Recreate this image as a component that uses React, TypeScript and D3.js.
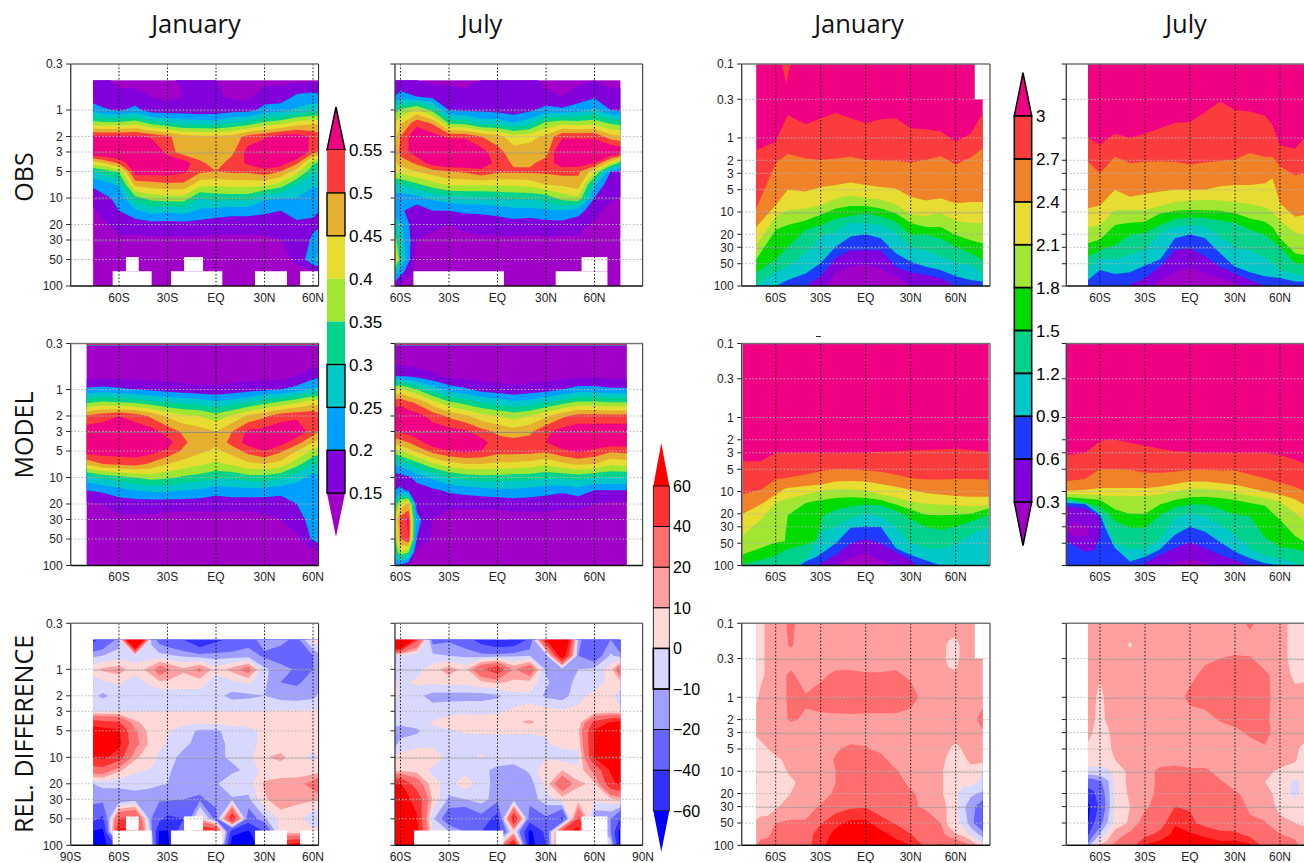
import React from "react";
import * as d3 from "d3";

// ---- colour levels
const ozThresholds = [15, 20, 25, 30, 35, 40, 45, 50, 55];
const ozColors = ["#a000c8", "#8200dc", "#00a0ff", "#00c8c8", "#00d28c", "#a0e632", "#e6dc32", "#e6af2d", "#fa3c3c", "#f00082"];
const ozLabels = ["0.55", "0.5", "0.45", "0.4", "0.35", "0.3", "0.25", "0.2", "0.15"];
const h2oLabels = ["3", "2.7", "2.4", "2.1", "1.8", "1.5", "1.2", "0.9", "0.6", "0.3"];
const h2oColors = ["#f00082", "#fa3c3c", "#f08228", "#e6dc32", "#a0e632", "#00dc00", "#00d28c", "#00c8c8", "#1e3cff", "#8200dc", "#a000c8"];
const diffThresholds = [-60, -40, -20, -10, 0, 10, 20, 40, 60];
const diffColors = ["#0000ff", "#3232ff", "#6666ff", "#a0a0ff", "#d8d8ff", "#ffd8d8", "#ffa0a0", "#ff6e6e", "#ff3232", "#ff0000"];
const diffLabels = ["60", "40", "20", "10", "0", "\u221210", "\u221220", "\u221240", "\u221260"];

// ---- axes
const leftTicks = [0.3, 1, 2, 3, 5, 10, 20, 30, 50, 100];
const rightTicks = [0.1, 0.3, 1, 2, 3, 5, 10, 20, 30, 50, 100];
const latTicks = [-60, -30, 0, 30, 60];
const titles = ["January", "July", "January", "July"];
const rowTitles = ["OBS", "MODEL", "REL. DIFFERENCE"];
const solidObs = [1, 3, 10, 30];
const solidModel = [3];
const solidH2oObs = [10, 30];
const solidDiff = [1, 10, 30];
const solidDiff2 = [0.3, 1, 3, 10, 30];

// ---- ozone-like panels
const levelsA = [0.46, 0.7, 1, 1.4, 2, 3, 4, 5, 7, 10, 14, 20, 30, 50, 70, 100];
const latsObsJan = [-76, -70, -60, -50, -40, -30, -20, -10, 0, 10, 20, 30, 40, 50, 60, 64];
const obsJan = [
  [17,16,14,14,14,14,16,17,15,14,14,14,14,14,14,14],
  [17,16,16,16,15,14,15,16,16,14,14,17,17,21,22,21],
  [23,21,19,22,17,17,17,16,17,18,18,22,23,26,28,28],
  [37,36,36,38,33,30,28,28,27,30,32,36,38,42,44,44],
  [56,56,56,56,54,51,47,46,46,47,52,54,57,58,54,52],
  [62,62,62,62,62,53,47,47,48,49,57,60,62,62,52,50],
  [42,45,51,60,60,60,58,51,48,52,56,60,58,51,36,34],
  [30,32,36,58,58,58,56,51,50,51,51,53,50,42,31,30],
  [21,22,26,47,48,49,49,42,41,42,42,42,38,30,26,26],
  [17,19,21,33,37,38,38,30,32,32,32,26,25,25,22,21],
  [14,17,20,24,27,26,27,24,23,22,22,21,20,22,21,20],
  [13,14,17,17,18,18,18,18,17,17,17,17,17,19,19,19],
  [12,13,14,14,14,14,14,14,14,14,14,14,15,16,21,23],
  [12,12,12,12,12,12,12,12,12,12,12,13,13,16,24,27],
  [12,12,12,12,12,12,12,12,12,12,12,12,12,13,14,15],
  [12,12,12,12,12,12,12,12,12,12,12,12,12,12,12,12],
];
const latsObsJul = [-63.4, -60, -50, -40, -30, -20, -10, 0, 10, 20, 30, 40, 50, 60, 70, 76];
const obsJul = [
  [17,16,15,14,14,14,15,17,17,16,14,14,14,15,14,14],
  [20,22,20,18,17,16,15,16,17,15,16,15,17,19,16,16],
  [33,36,41,33,20,19,19,18,17,19,22,21,23,26,20,19],
  [40,44,53,49,34,33,28,28,25,28,36,38,37,38,34,33],
  [43,50,60,57,54,54,50,47,42,43,46,54,54,54,47,46],
  [44,52,58,62,62,62,57,52,47,48,48,62,62,60,62,60],
  [44,47,51,58,60,60,57,54,49,49,52,58,58,55,42,33],
  [41,42,45,48,50,51,54,51,51,51,51,52,51,42,20,19],
  [30,30,34,38,41,41,41,41,41,42,45,46,48,26,16,16],
  [22,22,23,26,28,29,29,30,31,31,32,37,39,20,16,15],
  [20,21,17,20,20,21,21,22,23,23,24,25,22,17,13,13],
  [30,26,15,16,15,16,17,17,18,17,18,18,17,14,13,13],
  [38,28,15,14,13,14,14,14,14,14,14,14,14,13,13,13],
  [50,30,13,12,12,12,12,12,12,12,12,12,12,12,12,12],
  [28,22,13,12,12,12,12,12,12,12,12,12,12,12,12,12],
  [16,14,12,12,12,12,12,12,12,12,12,12,12,12,12,12],
];
const levelsB = [0.3, 0.31, 0.315, 0.46, 0.7, 1, 1.4, 2, 3, 4, 5, 7, 10, 14, 20, 30, 50, 70, 100];
const latsModelJan = [-80, -70, -60, -50, -40, -30, -20, -10, 0, 10, 20, 30, 40, 50, 60, 64];
const modelJan = [
  [60,60,60,60,60,60,60,60,60,60,60,60,60,60,60,60],
  [60,60,60,60,60,60,60,60,60,60,60,60,60,60,60,60],
  [12,12,12,12,12,12,12,12,12,12,12,12,12,12,12,12],
  [12,12,12,12,12,12,12,12,12,12,12,12,12,12,12,12],
  [13,13,13,13,13,13,13,13,13,13,13,13,13,15,18,19],
  [21,22,21,20,19,18,17,16,16,17,18,19,20,22,26,26],
  [34,36,35,34,32,30,29,28,26,27,30,33,36,39,43,43],
  [51,53,55,53,49,44,41,40,37,41,46,49,53,54,54,52],
  [58,58,58,58,57,53,49,47,45,50,56,57,58,58,53,49],
  [58,58,58,58,58,57,51,47,46,52,57,58,57,52,45,43],
  [58,58,58,58,57,54,49,46,44,47,52,55,51,45,39,37],
  [46,50,51,52,49,45,43,41,39,41,44,45,43,37,30,30],
  [28,31,33,35,37,36,34,33,31,31,33,33,31,27,23,24],
  [20,21,23,25,26,26,25,24,22,23,23,23,22,22,22,22],
  [14,15,17,17,17,17,17,17,17,17,17,17,17,20,22,22],
  [12,13,14,14,14,13,13,13,13,13,13,14,15,18,22,23],
  [12,12,12,12,12,12,12,12,12,12,12,12,13,14,21,23],
  [12,12,12,12,12,12,12,12,12,12,12,12,12,12,13,15],
  [12,12,12,12,12,12,12,12,12,12,12,12,12,12,12,12],
];
const latsModelJul = [-63.4, -60, -55, -50, -40, -30, -20, -10, 0, 10, 20, 30, 40, 50, 60, 70, 80];
const modelJul = [
  [60,60,60,60,60,60,60,60,60,60,60,60,60,60,60,60,60],
  [60,60,60,60,60,60,60,60,60,60,60,60,60,60,60,60,60],
  [12,12,12,12,12,12,12,12,12,12,12,12,12,12,12,12,12],
  [12,12,12,12,12,12,12,12,12,12,12,12,12,12,12,12,12],
  [20,20,19,18,16,14,13,13,13,13,13,13,13,14,14,13,13],
  [40,41,38,35,28,23,21,18,17,16,17,18,20,22,22,21,21],
  [53,54,51,49,42,36,33,30,28,26,27,30,33,36,36,35,35],
  [58,58,58,57,53,49,46,42,40,38,40,44,49,52,52,52,52],
  [55,56,57,58,58,57,56,52,49,47,49,54,57,58,58,58,58],
  [47,48,50,53,58,58,58,57,52,52,52,55,58,58,58,58,58],
  [38,40,43,46,52,55,56,55,52,52,52,51,54,56,54,51,52],
  [25,27,30,33,39,43,45,45,44,44,43,41,44,46,45,41,42],
  [17,18,19,22,26,30,32,33,33,32,32,31,31,32,30,30,30],
  [20,21,19,17,19,21,22,23,24,24,23,22,21,23,20,20,20],
  [30,42,46,18,16,16,16,16,16,17,17,17,16,16,15,14,14],
  [40,52,56,22,15,13,13,13,13,13,13,13,13,13,13,13,13],
  [35,50,55,20,14,12,12,12,12,12,12,12,12,12,12,12,12],
  [30,40,36,14,12,12,12,12,12,12,12,12,12,12,12,12,12],
  [20,19,15,12,12,12,12,12,12,12,12,12,12,12,12,12,12],
];
const latsDiffJan = [-76, -70, -60, -50, -40, -35, -30, -20, -10, 0, 10, 20, 30, 40, 50, 60, 64];
const diffJan = [
  [-45,-35,-15,150,-12,-25,-30,-40,-62,-45,-35,-25,-15,-15,-25,5,5],
  [-12,-10,-6,-5,-6,-7,-8,-12,-15,-15,-15,-15,-22,-28,-30,-20,-12],
  [6,12,15,4,15,30,22,12,24,4,14,28,-8,-15,-22,-20,-12],
  [-5,-2,2,-5,3,8,8,5,5,-5,-3,2,-8,-20,-22,-15,-12],
  [-8,-12,-6,-5,-7,-10,-7,-5,-5,-7,-13,-12,-10,-14,-15,-13,-8],
  [0,0,0,0,0,0,0,0,0,0,0,0,0,1,1,1,1],
  [50,45,42,12,5,4,4,3,3,3,4,4,4,3,3,3,4],
  [70,70,62,22,5,3,1,-5,-12,-12,-5,-3,2,3,3,5,12],
  [70,70,65,25,6,2,-1,-8,-13,-15,-6,-4,3,3,3,3,5],
  [60,65,50,12,4,-2,-6,-13,-16,-14,-7,-3,9,13,3,-2,2],
  [30,32,12,2,-1,-3,-8,-16,-15,-10,-14,-6,3,3,3,3,4],
  [-10,-8,-6,-6,-8,-9,-10,-15,-15,-12,2,-5,12,15,16,25,38],
  [-15,-15,-20,-15,-15,-18,-18,-20,-22,-16,-12,-12,8,18,12,12,12],
  [-35,-45,42,50,-20,-35,-45,-40,10,-25,65,-30,-12,3,5,-10,-8],
  [-62,-65,65,65,-15,-62,-62,-25,65,60,-55,-62,-40,5,3,5,5],
  [-70,-70,-30,20,0,-70,-70,20,40,40,-70,-70,-50,60,70,70,70],
];
const latsDiffJul = latsObsJul;
const diffJul = [
  [150,150,45,-25,-22,-30,-50,-62,-60,-35,60,120,-15,-40,-20,-45],
  [-5,-5,-5,-8,-10,-12,-15,-15,-12,-10,-15,80,-20,-30,-8,-15],
  [-6,-8,-4,6,15,6,38,55,18,35,-12,-15,-10,-8,5,35],
  [2,-2,2,2,4,3,8,12,8,7,-8,-18,-5,-5,3,8],
  [8,-6,-7,-14,-14,-14,-14,-12,-3,-2,-12,-15,-3,3,3,-6],
  [-5,-5,-6,-5,-3,-2,-2,-1,1,2,4,2,2,2,2,2],
  [-8,-8,-5,1,5,6,4,4,8,12,6,3,3,45,62,66],
  [-12,-13,-12,-2,-1,1,1,1,1,1,1,3,8,62,65,68],
  [-12,-8,-4,-2,-3,-4,-3,-3,-3,-3,-1,3,4,62,65,70],
  [3,4,8,6,-3,-3,1,-3,-4,-3,-1,-5,-4,62,65,70],
  [5,7,6,-2,-8,-3,-7,-13,-15,-8,8,10,3,25,62,68],
  [60,62,30,3,-3,5,-4,-15,-15,-15,4,35,12,8,55,64],
  [65,68,55,8,-12,-10,-6,-15,-15,-15,-5,5,3,3,7,12],
  [70,70,62,-8,-30,-35,-25,-50,65,-30,-22,-45,45,-20,-20,-42],
  [70,70,68,0,-10,-20,-40,-50,5,-65,-35,50,70,0,-20,-70],
  [70,70,60,0,0,0,0,0,70,-70,-40,60,70,0,0,-70],
];
const levelsF = [0.1, 0.2, 0.3, 0.5, 1, 2, 3, 5, 7, 10, 14, 20, 30, 50, 70, 100];
const latsDiff2Jan = [-73, -70, -65, -60, -50, -40, -30, -20, -10, 0, 10, 20, 30, 40, 50, 55, 60, 65, 70, 78];
const diff2Jan = [
  [5,8,12,15,22,15,15,15,15,15,15,15,15,15,15,14,13,12,12,12],
  [5,8,12,15,21,15,15,15,15,15,15,15,15,15,13,9,8,12,13,13],
  [5,8,12,15,15,15,15,15,15,15,15,15,15,15,14,8,7,13,14,14],
  [5,8,12,15,22,15,18,22,22,21,21,22,18,15,15,12,11,15,15,15],
  [8,12,15,15,22,21,24,25,26,25,25,25,25,15,15,15,15,15,15,15],
  [15,15,15,16,21,19,18,18,18,18,18,18,15,15,15,15,15,15,15,25],
  [11,12,15,15,15,15,15,15,15,15,15,15,15,15,15,15,15,15,15,18],
  [7,8,10,13,15,15,15,19,22,21,18,15,15,15,14,11,7,11,15,15],
  [5,6,7,8,13,15,15,21,24,24,23,16,15,15,13,8,6,8,12,14],
  [4,5,5,7,11,13,14,20,25,25,24,21,16,15,12,6,5,5,7,-1],
  [-2,3,5,6,9,12,13,20,24,24,23,23,18,14,12,6,4,3,4,-2],
  [3,4,5,7,10,13,15,22,25,25,25,25,21,18,12,6,2,-5,-8,-12],
  [2,4,5,8,16,16,21,30,36,38,27,23,21,19,19,7,3,-8,-15,-28],
  [12,14,14,20,21,21,38,55,65,65,50,38,28,24,20,8,3,-3,-15,-35],
  [18,18,19,22,22,30,50,65,70,70,65,55,40,28,25,15,10,6,-3,-15],
  [20,22,22,25,25,30,55,70,70,70,70,66,60,35,42,35,32,25,20,3],
];
const latsDiff2Jul = [-68, -65, -60, -55, -50, -40, -30, -20, -10, 0, 10, 20, 30, 40, 50, 60, 70, 75, 80];
const diff2Jul = [
  [15,15,15,15,15,15,15,15,15,15,15,15,15,22,15,12,8,8,8],
  [15,15,15,15,15,9,15,15,15,15,15,15,15,15,15,13,7,7,7],
  [15,15,15,15,15,15,15,15,15,15,18,20,22,21,15,13,7,7,7],
  [15,14,11,14,15,15,15,15,15,17,23,25,25,25,22,15,8,8,8],
  [15,13,7,13,15,15,15,15,15,23,25,25,25,25,23,15,13,14,14],
  [15,12,6,12,15,15,15,15,15,15,16,21,24,24,22,15,15,15,15],
  [14,10,5,8,15,15,15,15,15,15,15,15,17,22,23,15,15,15,15],
  [7,6,4,7,13,15,15,15,15,15,15,15,15,15,19,15,12,8,6],
  [3,3,3,5,10,15,15,15,15,15,15,15,15,15,15,15,11,7,5],
  [-2,-2,-2,-2,3,13,15,23,25,22,22,17,15,15,13,8,6,5,5],
  [-30,-28,-22,-12,2,13,16,22,25,25,25,21,17,15,10,6,-3,2,5],
  [-50,-45,-30,-14,1,12,17,22,38,30,25,23,21,18,13,7,-3,3,5],
  [-65,-55,-35,-15,1,10,18,25,40,38,28,25,23,19,14,8,3,4,3],
  [-62,-45,-25,-10,2,12,26,30,58,45,33,27,24,21,21,12,10,8,8],
  [-45,-25,-10,3,15,22,32,45,65,62,55,45,45,30,23,20,18,15,15],
  [-15,-5,10,15,22,28,62,70,72,72,72,70,70,65,30,23,22,18,18],
];

// ---- water vapour panels: pressure at which each level is crossed, per latitude (130 = not reached)
const latsH2oObsJan = [-73, -60, -52, -40, -30, -20, -10, 0, 10, 20, 30, 40, 50, 60, 70, 78];
const h2oObsJan = [
  [1.45,1.12,.49,.65,.54,.46,.54,.63,.56,.54,.74,.76,.82,1.12,.87,.46],
  [9,2.2,1.64,1.89,1.99,1.89,1.79,1.99,2.03,2.03,2.15,1.99,1.75,2.3,1.83,1.38],
  [16,8.1,5,5.3,4.6,4.3,4,4.3,4.6,4.8,6.2,7,6.5,7.6,7.3,7.3],
  [28,11.6,9.5,9,8.1,6.5,6,6.5,6.8,7.8,10.9,11.3,10.4,13,14.1,14.1],
  [44,17.4,15,13,10.9,9,8.3,8.3,9,10.4,14.1,16,16,20.5,24,26.5],
  [65,44,29.5,17.4,15,12.2,11.3,10.4,11.6,13.5,20.5,20.5,22.7,29.5,36,44],
  [96,65,55,36,21.5,18.5,14.1,14.1,15,19.2,29.5,32.8,40,49,52,68],
  [130,100,83,68,49,29.5,21.5,20,22.7,36,47,55,61,74,83,87],
  [130,130,130,100,74,42,32.8,32.8,32.8,55,65,71,78,100,130,130],
  [130,130,130,130,130,65,55,52,58,74,100,130,130,130,130,130],
];
const tipLatsObsJan = [-56, -53, -50];
const tipPressObsJan = [0.1, 0.18, 0.1];
const latsH2oObsJul = [-68, -60, -50, -40, -30, -20, -10, 0, 10, 20, 30, 40, 50, 55, 60, 70, 76];
const h2oObsJul = [
  [1,1.22,.87,1,.87,.74,.62,.61,.45,.32,.42,.44,.5,.67,1.25,1.4,1],
  [2.1,3,1.79,2.2,2.1,2.07,2.1,2.3,2.15,2.05,1.95,1.6,1.8,1.8,2.4,3.2,3],
  [8.9,8.2,5,6.2,5.7,5.3,5,5,5,4.5,4.3,4.3,4.1,3.5,7.6,11.6,11],
  [16,15,9.4,9.4,9.4,8.3,7.3,7,6.9,7,7.3,7.8,8.6,10,13,19,20.5],
  [26.5,23.5,15,14,13.5,10.5,9.6,9.4,9.5,9.6,10.4,12.2,13.5,16,22.7,36,38],
  [40,33,28,20.5,19,15,12.5,11.8,12,13,14,17.4,20.5,24,29.5,49,52],
  [58,42,44,38,33,19,16,15,16,21.5,29.5,33,42,50,61,68,74],
  [83,61,69,65,53,44,22.7,20,22.7,36,55,65,74,76,78,87,87],
  [130,130,130,96,78,55,33,31,40,55,68,83,100,130,130,130,130],
  [130,130,130,130,130,83,65,55,69,78,91,130,130,130,130,130,130],
];
const latsH2oModelJan = [-82, -70, -60, -54, -52, -40, -33, -29, -20, -10, 0, 10, 20, 30, 40, 50, 60, 70, 82];
const h2oModelJan = [
  [3.9,3.9,3,3,3,3,3,3,3,3,3,2.9,2.85,2.8,2.75,2.7,2.65,2.75,2.9],
  [10.9,9.5,6.9,6.6,6.5,5.9,5.5,5.3,5,5,5.2,5.4,5.9,6.6,6.9,6.9,6.8,6.8,6.9],
  [20,15,11,9.2,9,8.4,8.1,8,7.3,7.2,7.3,7.9,8.6,9.5,10.5,11,11.5,11.8,11.8],
  [39,24,14.3,12.7,12.5,11,10.2,9.8,9.3,9.3,9.7,11,12,13.6,14.6,15,15.5,16,15.5],
  [71,58,49,47,21,14.3,13.3,13,12.2,12,12.2,13,15,17.5,20.6,21,20.6,20,17],
  [95,84,74,62,60,52,45,22,17.7,16,15,15.5,18,23.6,30,33,30,25.5,20.6],
  [130,130,130,130,130,80,52,35,30,23,20,21.7,29,50,58,60,52,38.5,30],
  [130,130,130,130,130,88,77,68,50,31,30,30,58,72,85,100,130,130,130],
  [130,130,130,130,130,130,105,91,72,50,44,50,65,84,130,130,130,130,130],
  [130,130,130,130,130,130,130,130,100,80,67,84,100,130,130,130,130,130,130],
];
const latsH2oModelJul = [-82, -70, -60, -55, -50, -40, -30, -20, -10, 0, 10, 20, 30, 40, 50, 60, 70, 76];
const h2oModelJul = [
  [3.2,3,2.1,2,2,2.2,2.4,2.65,2.85,2.9,3,3,3,3,3,3.2,3.7,4.2],
  [7.2,6.8,5,5,5,5.1,5.6,5.6,5.4,5.1,5.1,5.2,5.2,5.9,6.6,7.6,8.6,9.8],
  [9.8,9.5,9,9,9,9,9,8.6,7.9,7.3,7.3,7.7,8.1,9,10,11,12.7,15],
  [10.8,11,11.2,11.5,11.6,11.6,11.5,11,10,9.2,9.2,9.6,10.4,11.4,12.3,13.7,19.5,24],
  [12,12.4,13,15,17.5,20,20,15,13,12,11.8,12.2,13,14.3,15.6,24,40,47],
  [12.5,14,16.3,19.5,25,31,31,21,16.3,15,15,17.2,20.5,21.7,42,56,60,65],
  [13,15,19.5,30,50,60,58,45,23,20,21.7,28,38.5,58,74,80,93,100],
  [14.3,14.8,20.6,36.5,58,88,76,61,38.5,30,35,48,65,80,93,100,130,130],
  [130,130,130,130,130,130,93,72,58,48,58,72,84,100,130,130,130,130],
  [130,130,130,130,130,130,130,105,92,82,92,105,130,130,130,130,130,130],
];
const bubbleLats = [-82, -70, -64, -60];
const bubbleTop = [16, 17, 19.5, 24];
const bubbleBottom = [47, 65, 62, 40];
const innerLats = [-82, -75, -68];
const innerTop = [29, 26, 31];
const innerBottom = [35, 42, 38];

// ---- missing-data boxes [lat0, lat1, pressure0, pressure1]
const missObsJan = [[-63.9,-39.8,68,100],[-55.7,-47.8,47,68],[-27.8,3.9,68,100],[-19.8,-8,47,68],[24.1,43.9,68,100],[52,64,68,100]];
const missObsJul = [[-52,4,68,100],[36,68,68,100],[52,68,47,68]];
const missDiffJan = missObsJan;
const missDiffJul = [[-51.6,3.6,68,100],[36,68,68,100],[52,68,47,68]];
const missH2oJan = [[72.7,78.1,0.1,0.3]];

const rowsY = [64, 343.5, 623.3];
const H = 222;
const cols = [
  { eq: 216, k: 1.617, left: 70.7, right: 318.6, ticks: leftTicks, scaleTop: 0.3, labels: true },
  { eq: 497.5, k: 1.617, left: 395, right: 642.7, ticks: leftTicks, scaleTop: 0.3, labels: false },
  { eq: 865.7, k: 1.5, left: 741.7, right: 990, ticks: rightTicks, scaleTop: 0.1, labels: true },
  { eq: 1190, k: 1.5, left: 1066.3, right: 1314, ticks: rightTicks, scaleTop: 0.1, labels: false },
];
const font = "'Liberation Sans', Arial, sans-serif";
const titleFont = "'Open Sans', sans-serif";
let clipId = 0;

function Frame({ col, row, lats, solid, children }: any) {
  const c = cols[col];
  const top = rowsY[row];
  const y = d3.scaleLog().domain([c.scaleTop, 100]).range([top, top + H]);
  const x = d3.scaleLinear().domain([-90, 90]).range([c.eq - 90 * c.k, c.eq + 90 * c.k]);
  const id = "clip" + clipId++;
  const bottomLabels = row === 2 && col < 2;
  const xt = bottomLabels ? (col === 0 ? [-90, ...latTicks] : [...latTicks, 90]) : latTicks;
  const fmt = (d: number) => (d === 0 ? "EQ" : Math.abs(d) + (d < 0 ? "S" : "N"));
  const sx0 = Math.max(c.left, x(lats[0]));
  const sx1 = Math.min(c.right, x(lats[lats.length - 1]));
  return (
    <g>
      <clipPath id={id}><rect x={c.left} y={top} width={c.right - c.left} height={H} /></clipPath>
      <g clipPath={`url(#${id})`}>{children(x, y)}</g>
      {(solid || []).map((p: number) => (
        <line key={p} x1={sx0} x2={sx1} y1={y(p) + 1} y2={y(p) + 1} stroke="#808080" strokeOpacity={row === 1 ? 0.7 : 0.4} strokeWidth={1} />
      ))}
      {c.ticks.map((p) => (
        <g key={p}>
          {p !== c.scaleTop && p !== 100 && (
            <line x1={c.left} x2={c.right} y1={y(p)} y2={y(p)} stroke="#b4b4b4" strokeWidth={1} strokeDasharray="1.5 2" />
          )}
          <line x1={c.left - 4.5} x2={c.left} y1={y(p)} y2={y(p)} stroke="#222" strokeWidth={1} />
          {c.labels && (
            <text x={c.left - 8} y={y(p) + 4.3} fontSize={12} fontFamily={font} textAnchor="end" fill="#222">{p}</text>
          )}
        </g>
      ))}
      {latTicks.map((d) => (
        <line key={d} x1={x(d)} x2={x(d)} y1={top} y2={top + H} stroke="#111" strokeWidth={1} strokeDasharray="1.5 2" />
      ))}
      {xt.map((d) => (
        <text key={d} x={x(d)} y={top + H + 15.5} fontSize={12} fontFamily={font} textAnchor="middle" fill="#222">{fmt(d)}</text>
      ))}
      <line x1={c.left} x2={c.right} y1={top} y2={top} stroke="#777" strokeWidth={1.4} />
      <line x1={c.left} x2={c.right} y1={top + H} y2={top + H} stroke="#111" strokeWidth={1.4} />
      <line x1={c.left} x2={c.left} y1={top} y2={top + H} stroke="#444" strokeWidth={1.4} />
      <line x1={c.right} x2={c.right} y1={top} y2={top + H} stroke="#222" strokeWidth={1} />
    </g>
  );
}

function Missing({ boxes, x, y }: any) {
  return boxes.map((b: number[], i: number) => (
    <rect key={i} x={x(b[0])} y={y(b[2])} width={x(b[1]) - x(b[0])} height={y(b[3]) - y(b[2])} fill="#fff" />
  ));
}

function GridPanel({ col, row, lats, levels, grid, thresholds, colors, miss, solid }: any) {
  return (
    <Frame col={col} row={row} lats={lats} solid={solid}>
      {(x: any, y: any) => {
        const n = lats.length;
        const m = levels.length;
        const xi = d3.scaleLinear().domain(lats.map((_: any, i: number) => i)).range(lats.map((l: number) => x(l))).clamp(true);
        const yi = d3.scaleLinear().domain(levels.map((_: any, i: number) => i)).range(levels.map((l: number) => y(l))).clamp(true);
        const path = d3.geoPath(
          d3.geoTransform({
            point(a: number, b: number) {
              (this as any).stream.point(xi(a - 0.5), yi(b - 0.5));
            },
          })
        );
        const cs = d3.contours().size([n, m]).thresholds(thresholds)(grid.flat());
        return (
          <>
            <rect x={x(lats[0])} y={y(levels[0])} width={x(lats[n - 1]) - x(lats[0])} height={y(levels[m - 1]) - y(levels[0])} fill={colors[0]} />
            {cs.map((c: any, i: number) => (
              <path key={i} d={path(c) || ""} fill={colors[i + 1]} />
            ))}
            {miss && <Missing boxes={miss} x={x} y={y} />}
          </>
        );
      }}
    </Frame>
  );
}

function IsoPanel({ col, row, lats, iso, miss, extras, solid }: any) {
  return (
    <Frame col={col} row={row} lats={lats} solid={solid}>
      {(x: any, y: any) => {
        const x0 = x(lats[0]);
        const x1 = x(lats[lats.length - 1]);
        const top = rowsY[row];
        const area = d3
          .area<number>()
          .x((_, i) => x(lats[i]))
          .y0(top + H + 5)
          .y1((p) => y(p));
        return (
          <>
            <rect x={x0} y={top} width={x1 - x0} height={H} fill={h2oColors[0]} />
            {iso.map((r: number[], i: number) => (
              <path key={i} d={area(r) || ""} fill={h2oColors[i + 1]} />
            ))}
            {extras && extras(x, y)}
            {miss && <Missing boxes={miss} x={x} y={y} />}
          </>
        );
      }}
    </Frame>
  );
}

function ColorBar({ x, w, ys, apexTop, apexBottom, colors, labels, labelX, size, boxed, strokeAll, thickIdx, topStroke, bottomStroke }: any) {
  const n = ys.length;
  const mid = x + w / 2;
  return (
    <g>
      <path d={`M${x},${ys[0]}L${mid},${apexTop}L${x + w},${ys[0]}Z`} fill={colors[0]} stroke={topStroke ? "#000" : "none"} strokeWidth={1.5} />
      <path d={`M${x},${ys[n - 1]}L${mid},${apexBottom}L${x + w},${ys[n - 1]}Z`} fill={colors[n]} stroke={bottomStroke ? "#000" : "none"} strokeWidth={1.5} />
      {ys.slice(0, -1).map((v: number, i: number) => (
        <rect key={i} x={x} y={v} width={w} height={ys[i + 1] - v} fill={colors[i + 1]} />
      ))}
      {strokeAll &&
        ys.slice(0, -1).map((v: number, i: number) => (
          <rect key={i} x={x} y={v} width={w} height={ys[i + 1] - v} fill="none" stroke="#000" strokeWidth={i === thickIdx ? 1.6 : strokeAll} />
        ))}
      {boxed &&
        boxed.map((i: number) => (
          <rect key={i} x={x} y={ys[i]} width={w} height={ys[i + 1] - ys[i]} fill="none" stroke="#000" strokeWidth={1.4} />
        ))}
      {labels.map((t: string, i: number) => (
        <text key={i} x={labelX} y={ys[i] + size * 0.36} fontSize={size} fontFamily={font} fill="#000">{t}</text>
      ))}
    </g>
  );
}

export default function App() {
  clipId = 0;
  const ozY = ozLabels.map((_, i) => 150 + i * 42.9);
  const h2oY = h2oLabels.map((_, i) => 116 + i * 42.9);
  const diffY = diffLabels.map((_, i) => 486 + i * 40.6);
  return (
    <svg width={1304} height={863} style={{ position: "absolute", left: 0, top: 0, display: "block", background: "#fff" }}>
      {titles.map((t, i) => (
        <text key={i} x={[196, 481.5, 859, 1186][i]} y={33} fontSize={25.5} fontFamily={titleFont} textAnchor="middle" fill="#111">{t}</text>
      ))}
      {rowTitles.map((t, i) => (
        <text key={i} transform={`translate(33,${[177, 435, 734][i]}) rotate(-90)`} fontSize={25} fontFamily={titleFont} textAnchor="middle" fill="#111">{t}</text>
      ))}

      <GridPanel col={0} row={0} lats={latsObsJan} levels={levelsA} grid={obsJan} thresholds={ozThresholds} colors={ozColors} miss={missObsJan} solid={solidObs} />
      <GridPanel col={1} row={0} lats={latsObsJul} levels={levelsA} grid={obsJul} thresholds={ozThresholds} colors={ozColors} miss={missObsJul} solid={solidObs} />
      <GridPanel col={0} row={1} lats={latsModelJan} levels={levelsB} grid={modelJan} thresholds={ozThresholds} colors={ozColors} solid={solidModel} />
      <GridPanel col={1} row={1} lats={latsModelJul} levels={levelsB} grid={modelJul} thresholds={ozThresholds} colors={ozColors} solid={solidModel} />
      <GridPanel col={0} row={2} lats={latsDiffJan} levels={levelsA} grid={diffJan} thresholds={diffThresholds} colors={diffColors} miss={missDiffJan} solid={solidDiff} />
      <GridPanel col={1} row={2} lats={latsDiffJul} levels={levelsA} grid={diffJul} thresholds={diffThresholds} colors={diffColors} miss={missDiffJul} solid={solidDiff} />

      <IsoPanel
        col={2}
        row={0}
        lats={latsH2oObsJan}
        iso={h2oObsJan}
        miss={missH2oJan}
        solid={solidH2oObs}
        extras={(x: any, y: any) => {
          const a = d3.area<number>().x((_, i) => x(tipLatsObsJan[i])).y0(y(0.1)).y1((p) => y(p));
          return <path d={a(tipPressObsJan) || ""} fill={h2oColors[1]} />;
        }}
      />
      <IsoPanel col={3} row={0} lats={latsH2oObsJul} iso={h2oObsJul} solid={solidH2oObs} />
      <IsoPanel col={2} row={1} lats={latsH2oModelJan} iso={h2oModelJan} />
      <IsoPanel
        col={3}
        row={1}
        lats={latsH2oModelJul}
        iso={h2oModelJul}
        extras={(x: any, y: any) => {
          const a = d3.area<number>().x((_, i) => x(bubbleLats[i])).y0((_, i) => y(bubbleBottom[i])).y1((p) => y(p));
          const b = d3.area<number>().x((_, i) => x(innerLats[i])).y0((_, i) => y(innerBottom[i])).y1((p) => y(p));
          return (
            <>
              <path d={a(bubbleTop) || ""} fill={h2oColors[9]} />
              <path d={b(innerTop) || ""} fill={h2oColors[10]} />
            </>
          );
        }}
      />
      <GridPanel col={2} row={2} lats={latsDiff2Jan} levels={levelsF} grid={diff2Jan} thresholds={diffThresholds} colors={diffColors} miss={missH2oJan} solid={solidDiff2} />
      <GridPanel col={3} row={2} lats={latsDiff2Jul} levels={levelsF} grid={diff2Jul} thresholds={diffThresholds} colors={diffColors} solid={solidDiff2} />

      <line x1={816} x2={821} y1={336.5} y2={336.5} stroke="#333" strokeWidth={1} />

      <ColorBar x={327} w={18} ys={ozY} apexTop={107} apexBottom={537} colors={[...ozColors].reverse()} labels={ozLabels} labelX={349} size={17} boxed={[1, 5, 7]} topStroke />
      <ColorBar x={1014.3} w={17.4} ys={h2oY} apexTop={72.7} apexBottom={545.7} colors={h2oColors} labels={h2oLabels} labelX={1036} size={17} strokeAll={1.5} topStroke bottomStroke />
      <ColorBar x={653.3} w={16} ys={diffY} apexTop={443} apexBottom={851.7} colors={[...diffColors].reverse()} labels={diffLabels} labelX={673} size={16} strokeAll={0.8} thickIdx={4} />
    </svg>
  );
}
